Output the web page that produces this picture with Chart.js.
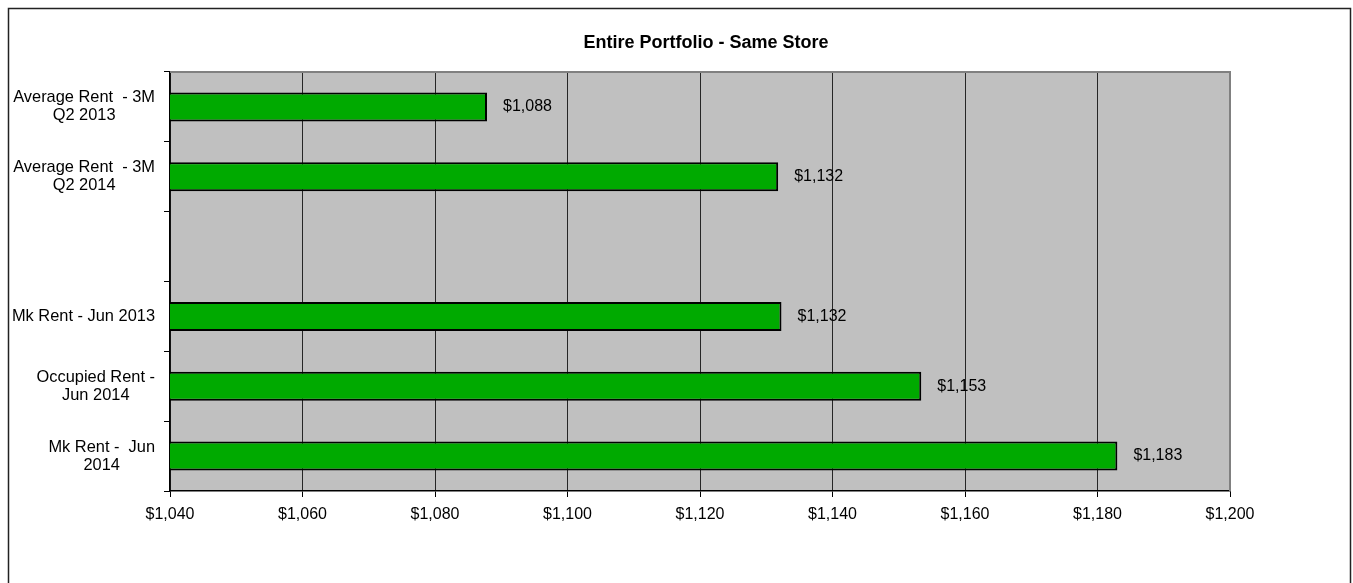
<!DOCTYPE html>
<html>
<head>
<meta charset="utf-8">
<script src="https://cdn.jsdelivr.net/npm/chart.js@4/dist/chart.umd.min.js"></script>
<style>
html,body{margin:0;padding:0;background:#fff;}
canvas{display:block;}
</style>
</head>
<body>
<canvas id="c" width="1353" height="583"></canvas>
<script>
const chartTitle = "Entire Portfolio - Same Store";
const categories = [
  ["Average Rent  - 3M", "Q2 2013"],
  ["Average Rent  - 3M", "Q2 2014"],
  [""],
  ["Mk Rent - Jun 2013"],
  ["Occupied Rent -", "Jun 2014"],
  ["Mk Rent -  Jun", "2014"]
];
const rentValues = [1087.85, 1131.8, null, 1132.3, 1153.4, 1183.0];
const xMin = 1040, xMax = 1200, xStep = 20;

const FONT = '"Liberation Sans", Arial, sans-serif';
Chart.defaults.font.family = FONT;
Chart.defaults.font.size = 16;
Chart.defaults.color = '#000';

function money(v) {
  const n = Math.round(v);
  return '$' + String(n).replace(/\B(?=(\d{3})+(?!\d))/g, ',');
}

const decorPlugin = {
  id: 'decor',
  beforeDraw(chart) {
    const ctx = chart.ctx, a = chart.chartArea;
    ctx.save();
    ctx.strokeStyle = '#222';
    ctx.lineWidth = 1.5;
    ctx.strokeRect(8.5, 8.5, 1342, 620);
    ctx.fillStyle = '#C0C0C0';
    ctx.fillRect(a.left, a.top, a.right - a.left, a.bottom - a.top);
    ctx.restore();
  },
  afterDraw(chart) {
    const ctx = chart.ctx, a = chart.chartArea;
    ctx.save();
    ctx.strokeStyle = '#808080';
    ctx.lineWidth = 2;
    ctx.beginPath();
    ctx.moveTo(a.left, a.top);
    ctx.lineTo(a.right, a.top);
    ctx.lineTo(a.right, a.bottom);
    ctx.stroke();
    // title
    ctx.fillStyle = '#000';
    ctx.font = 'bold 18px ' + FONT;
    ctx.textAlign = 'center';
    ctx.textBaseline = 'middle';
    ctx.fillText(chartTitle, 706, 43);
    // category labels
    const ys = chart.scales.y;
    ctx.font = '16.4px ' + FONT;
    const lh = 18;
    categories.forEach((lines, i) => {
      const cy = ys.getPixelForValue(i);
      let maxW = 0;
      lines.forEach(l => { maxW = Math.max(maxW, ctx.measureText(l).width); });
      const cx = 155 - maxW / 2;
      const y0 = cy - (lines.length - 1) * lh / 2;
      lines.forEach((l, k) => ctx.fillText(l, cx, y0 + k * lh));
    });
    // data labels
    ctx.font = '16px ' + FONT;
    const meta = chart.getDatasetMeta(0);
    ctx.textAlign = 'left';
    meta.data.forEach((bar, i) => {
      const v = rentValues[i];
      if (v == null) return;
      ctx.fillText(money(v), bar.x + 16, bar.y);
    });
    ctx.restore();
  }
};

new Chart(document.getElementById('c'), {
  type: 'bar',
  data: {
    labels: categories.map(c => c.join(' ')),
    datasets: [{
      data: rentValues,
      backgroundColor: '#00AA00',
      borderColor: '#000',
      borderWidth: 2,
      borderSkipped: false,
      barPercentage: 0.415,
      categoryPercentage: 1.0
    }]
  },
  options: {
    indexAxis: 'y',
    responsive: false,
    animation: false,
    layout: { padding: { top: 72, right: 123, left: 0, bottom: 0 } },
    plugins: {
      legend: { display: false },
      title: { display: false },
      tooltip: { enabled: false }
    },
    scales: {
      x: {
        type: 'linear',
        min: xMin, max: xMax,
        ticks: {
          stepSize: xStep,
          color: '#000',
          padding: 8,
          font: { family: FONT, size: 16 },
          callback: v => money(v)
        },
        grid: { color: '#262626', lineWidth: 1, tickLength: 6, tickColor: '#000' },
        border: { color: '#000', width: 1.5 },
        afterFit(s) { s.height = 583 - 491; }
      },
      y: {
        type: 'category',
        offset: true,
        ticks: { display: false },
        grid: { offset: true, drawOnChartArea: false, tickLength: 6, color: '#000' },
        border: { color: '#000', width: 1.5 },
        afterFit(s) { s.width = 170; }
      }
    }
  },
  plugins: [decorPlugin]
});
</script>
</body>
</html>
